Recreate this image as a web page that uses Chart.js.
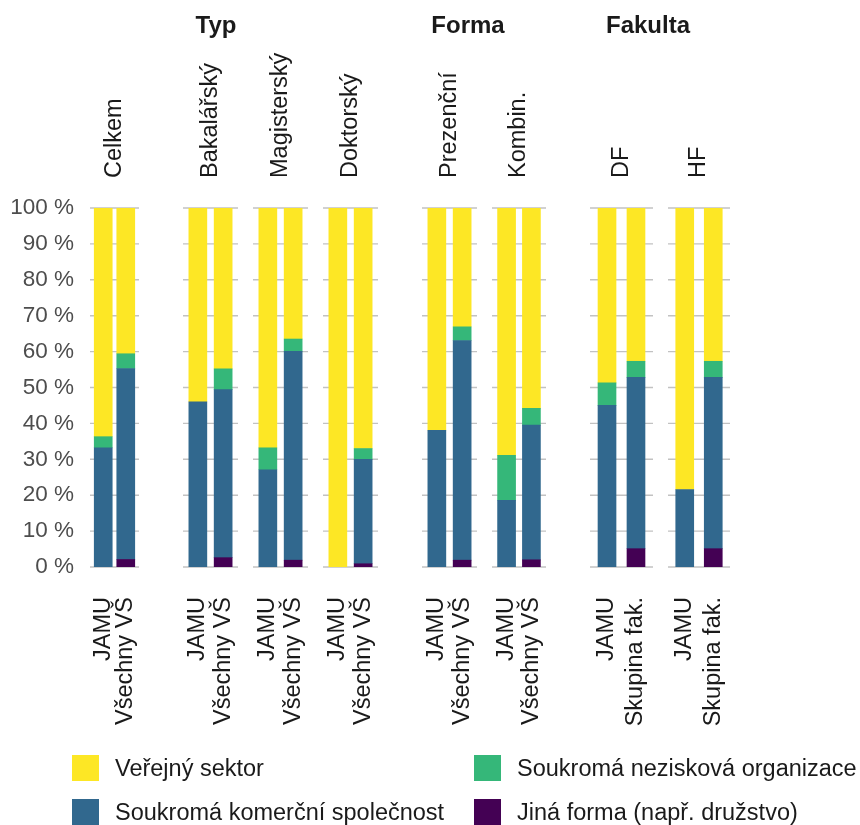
<!DOCTYPE html>
<html lang="cs">
<head>
  <meta charset="UTF-8" />
  <title>Sektor zaměstnavatele absolventů</title>
  <script src="https://cdn.jsdelivr.net/npm/chart.js@4"></script>
  <style>
    body { margin: 0; background: #fff; font-family: "Liberation Sans", Arial, sans-serif; }
    #wrap { position: relative; width: 860px; height: 825px; }
    #legend { position: absolute; left: 0; top: 0; width: 860px; height: 825px; pointer-events: none; }
    .item { position: absolute; display: flex; align-items: center; height: 30px; font-size: 23.5px; color: #1a1a1a; white-space: nowrap; }
    .box { width: 27px; height: 26px; margin-right: 16px; }
  </style>
</head>
<body>
  <div id="wrap">
    <canvas id="chart" width="860" height="825"></canvas>
    <div id="legend"></div>
  </div>

  <script>
    // panely (facety) a skupiny nad nimi
    const panels = ['Celkem', 'Bakalářský', 'Magisterský', 'Doktorský', 'Prezenční', 'Kombin.', 'DF', 'HF'];
    const groupTitles = ['Typ', 'Forma', 'Fakulta'];

    // dva sloupce v kazdem panelu
    const barLabels = [
      'JAMU', 'Všechny VŠ', 'JAMU', 'Všechny VŠ', 'JAMU', 'Všechny VŠ', 'JAMU', 'Všechny VŠ',
      'JAMU', 'Všechny VŠ', 'JAMU', 'Všechny VŠ', 'JAMU', 'Skupina fak.', 'JAMU', 'Skupina fak.'
    ];

    // podily v % (odspodu nahoru)
    const seriesNames = ['Jiná forma (např. družstvo)', 'Soukromá komerční společnost', 'Soukromá nezisková organizace', 'Veřejný sektor'];
    const jinaForma  = [0, 2.1,   0, 2.6,   0, 1.9,   0, 0.9,   0, 1.9,   0, 2.0,   0, 5.1,   0, 5.1];
    const komercni   = [33.2, 53.2, 46.0, 46.8, 27.1, 58.2, 0, 29.1, 38.1, 61.2, 18.6, 37.5, 45.0, 47.7, 21.6, 47.7];
    const neziskova  = [3.1, 4.1,  0, 5.8,   6.1, 3.4,   0, 3.0,   0, 3.8,   12.5, 4.7, 6.3, 4.5,   0, 4.5];
    const verejny    = [63.7, 40.6, 54.0, 44.8, 66.8, 36.5, 100, 67.0, 61.9, 33.1, 68.9, 55.8, 48.7, 42.7, 78.4, 42.7];

    const seriesColors = ['#440154', '#31688E', '#35B779', '#FDE725'];
    const legendOrder = [3, 2, 1, 0];

    // rozvrzeni panelu na ose x (jednotky = px)
    const panelWidth = [49, 55, 55, 55, 55, 54, 63, 62];
    const panelGap = [0, 44, 15, 15, 44, 15, 44, 15];
    const groupTitleX = [126, 378, 558];

    const panelStart = [];
    let pos = 0;
    panelWidth.forEach((w, i) => { pos += panelGap[i]; panelStart.push(pos); pos += w; });
    const xMax = pos;
    const barX = [];
    panelStart.forEach((s, i) => { barX.push(s + panelWidth[i] * 0.27, s + panelWidth[i] * 0.73); });

    const fontFamily = '"Liberation Sans", Arial, sans-serif';

    const facetPlugin = {
      id: 'facets',
      beforeDatasetsDraw(chart) {
        const { ctx, scales: { x, y } } = chart;
        ctx.save();
        ctx.strokeStyle = '#c2c2c2';
        ctx.lineWidth = 1.4;
        panelStart.forEach((s, i) => {
          const x0 = x.getPixelForValue(s), x1 = x.getPixelForValue(s + panelWidth[i]);
          y.ticks.forEach(t => {
            const py = y.getPixelForValue(t.value);
            ctx.beginPath();
            ctx.moveTo(x0, py);
            ctx.lineTo(x1, py);
            ctx.stroke();
          });
        });
        ctx.restore();
      },
      afterDraw(chart) {
        const { ctx, chartArea, scales: { x } } = chart;
        ctx.save();
        ctx.fillStyle = '#1a1a1a';
        ctx.font = '23.5px ' + fontFamily;
        ctx.textAlign = 'left';
        ctx.textBaseline = 'middle';
        panels.forEach((p, i) => {
          const cx = x.getPixelForValue(panelStart[i] + panelWidth[i] / 2);
          ctx.save();
          ctx.translate(cx, chartArea.top - 30);
          ctx.rotate(-Math.PI / 2);
          ctx.fillText(p, 0, 0);
          ctx.restore();
        });
        ctx.font = 'bold 24px ' + fontFamily;
        ctx.textAlign = 'center';
        groupTitles.forEach((g, i) => {
          ctx.fillText(g, x.getPixelForValue(groupTitleX[i]), 26);
        });
        ctx.restore();
      }
    };

    const values = [jinaForma, komercni, neziskova, verejny];
    const datasets = values.map((vals, k) => ({
      label: seriesNames[k],
      // nulove podily se nekresli vubec
      data: vals.map((v, i) => ({ x: barX[i], y: v === 0 ? null : v })),
      backgroundColor: seriesColors[k],
      barThickness: 18,
      borderWidth: 0
    }));

    new Chart(document.getElementById('chart'), {
      type: 'bar',
      data: { datasets },
      plugins: [facetPlugin],
      options: {
        responsive: false,
        animation: false,
        layout: { padding: { top: 208, right: 860 - 90 - xMax, left: 0, bottom: 0 } },
        plugins: { legend: { display: false }, tooltip: { enabled: false } },
        scales: {
          x: {
            type: 'linear',
            stacked: true,
            min: 0,
            max: xMax,
            offset: false,
            grid: { display: false, drawTicks: false },
            border: { display: false },
            afterBuildTicks: s => { s.ticks = barX.map(v => ({ value: v })); },
            afterFit: s => { s.height = 825 - 567; },
            ticks: {
              autoSkip: false,
              minRotation: 90,
              maxRotation: 90,
              padding: 30,
              color: '#1a1a1a',
              font: { family: fontFamily, size: 23.5 },
              callback: (v, i) => barLabels[i]
            }
          },
          y: {
            stacked: true,
            min: 0,
            max: 100,
            grid: { display: false, drawTicks: false },
            border: { display: false },
            afterFit: s => { s.width = 90; },
            ticks: {
              stepSize: 10,
              padding: 16,
              color: '#4d4d4d',
              font: { family: fontFamily, size: 22.5 },
              callback: v => v + ' %'
            }
          }
        }
      }
    });

    // legenda ve dvou sloupcich
    const legend = document.getElementById('legend');
    const colX = [72, 474], rowY = [768, 812];
    legendOrder.forEach((k, n) => {
      const item = document.createElement('div');
      item.className = 'item';
      item.style.left = colX[n % 2] + 'px';
      item.style.top = (rowY[Math.floor(n / 2)] - 15) + 'px';
      item.innerHTML = `<span class="box" style="background:${seriesColors[k]}"></span>${seriesNames[k]}`;
      legend.appendChild(item);
    });
  </script>
</body>
</html>
